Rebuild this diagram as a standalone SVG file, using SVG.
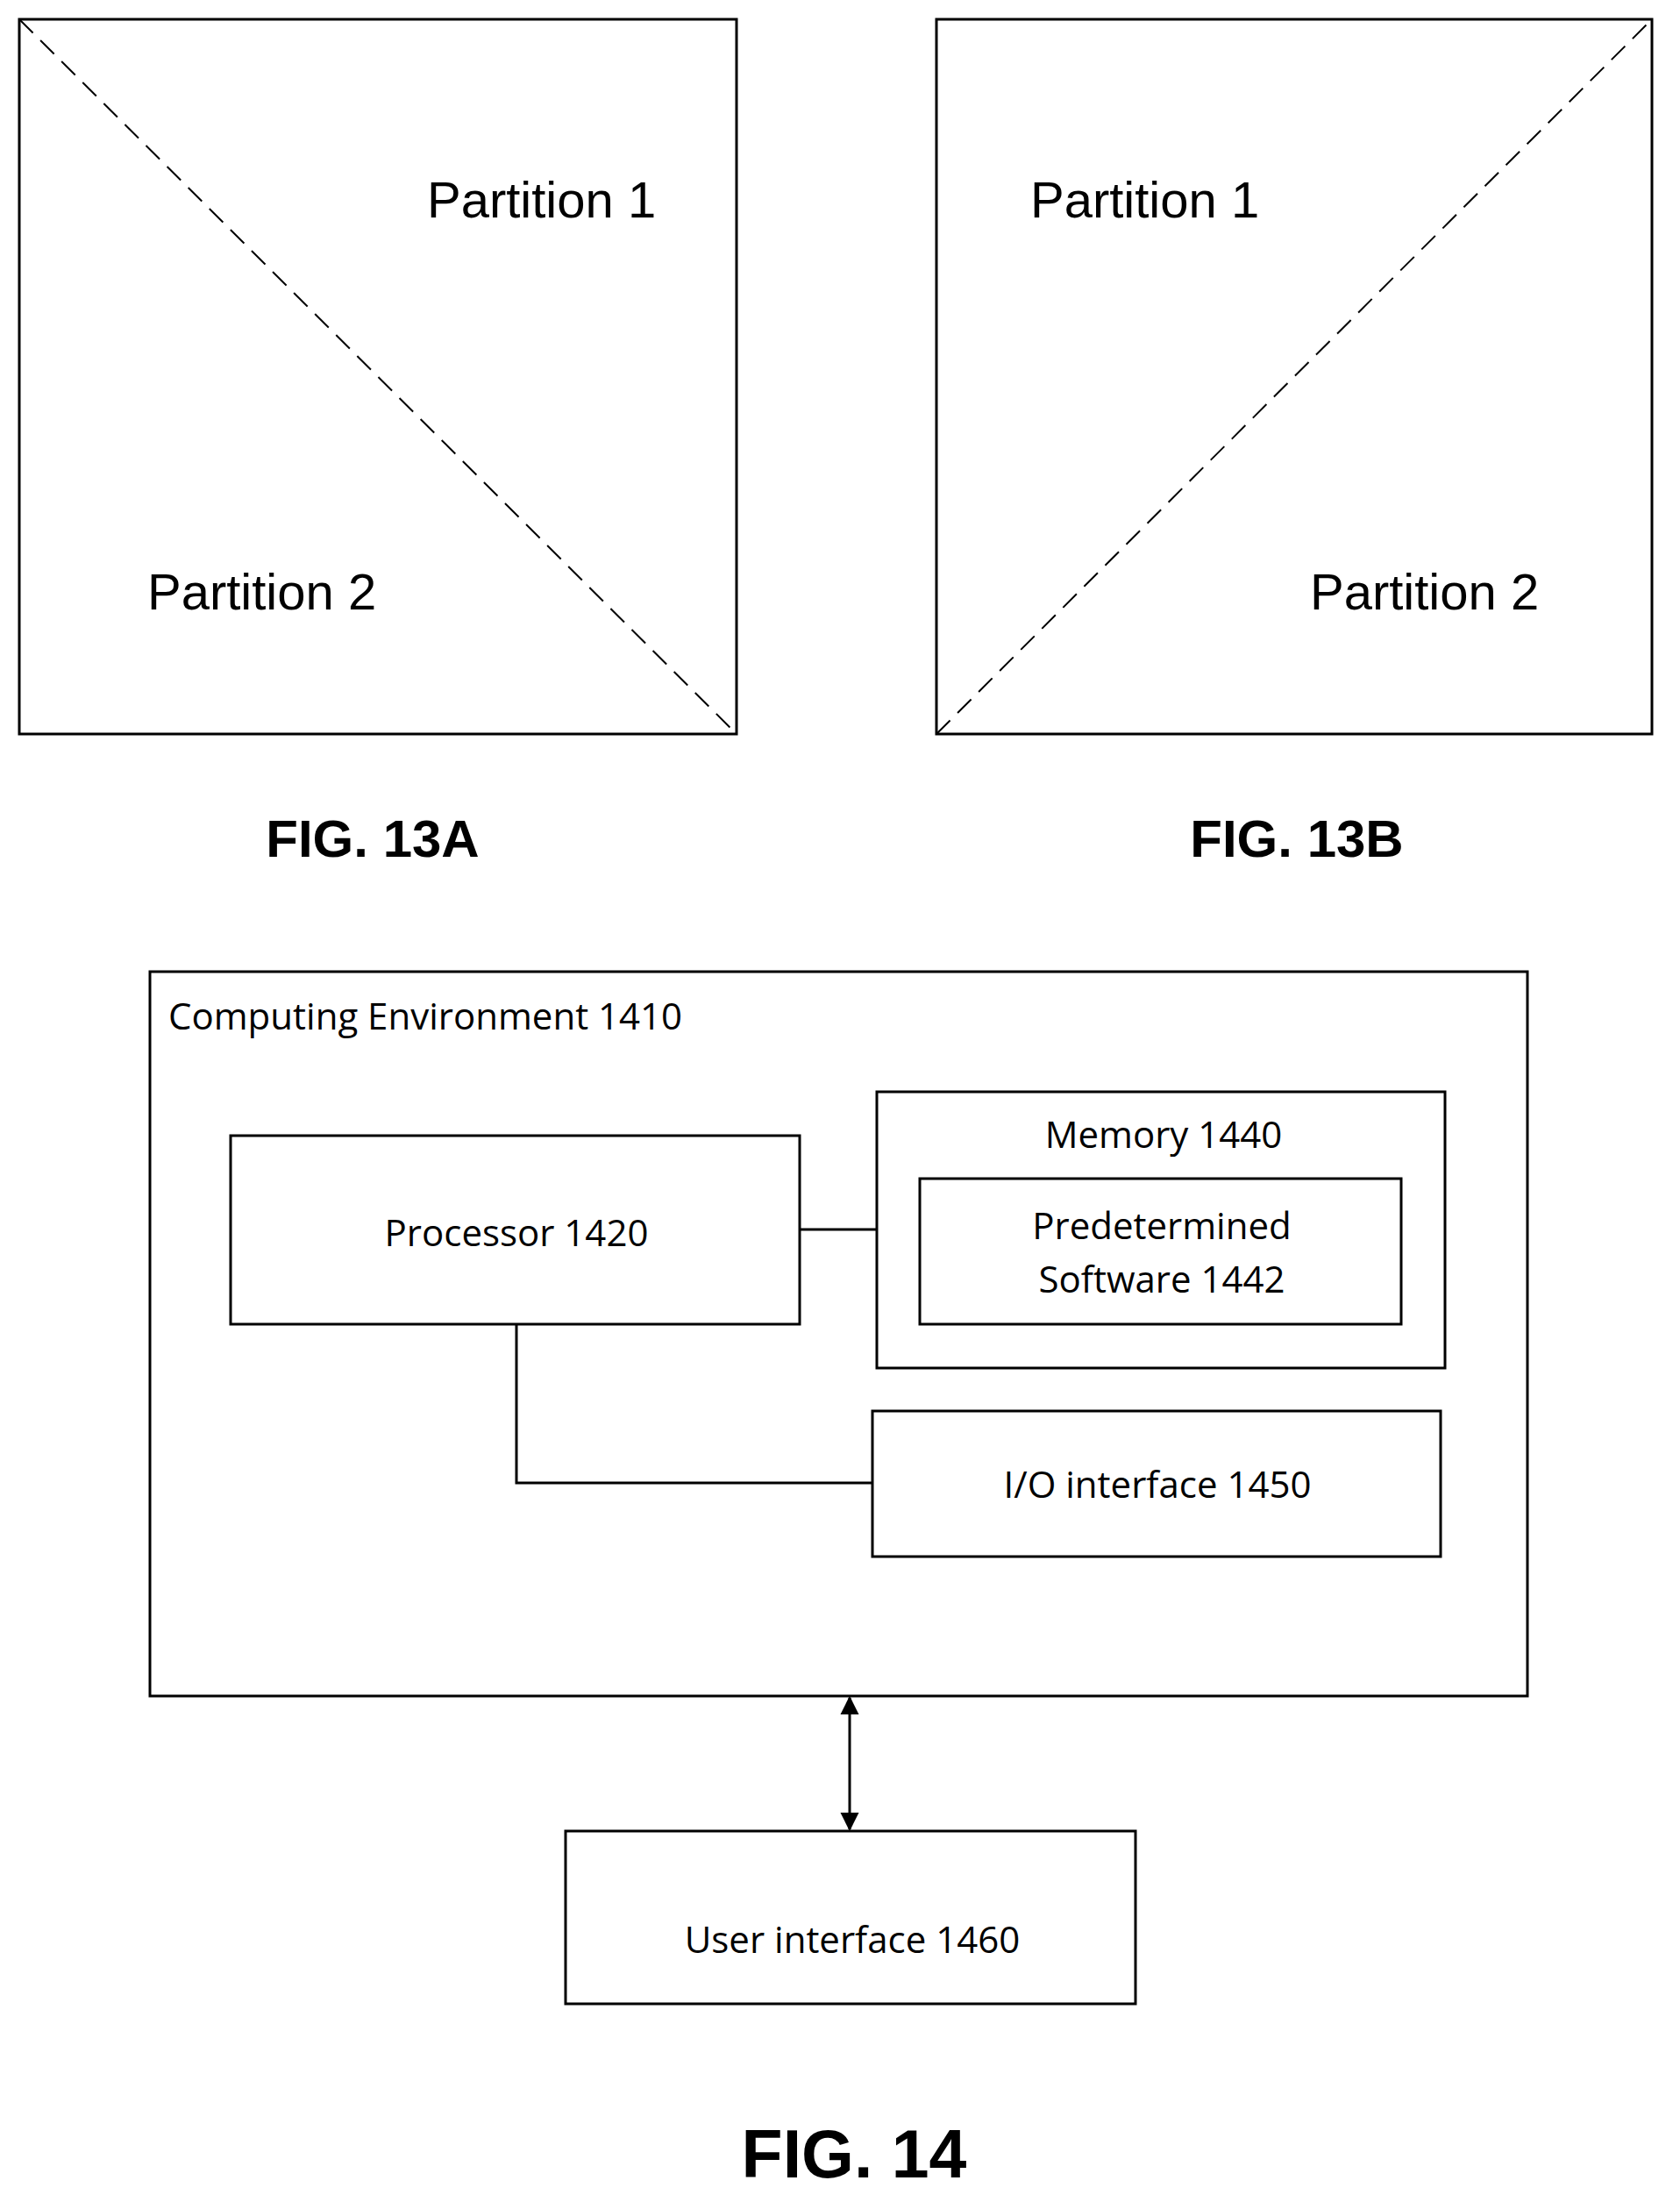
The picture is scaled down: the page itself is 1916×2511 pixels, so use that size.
<svg xmlns="http://www.w3.org/2000/svg" width="1916" height="2511" viewBox="0 0 1916 2511">
<defs>
<style>
.b{fill:none;stroke:#000;stroke-width:3}
.d{fill:none;stroke:#000;stroke-width:2;stroke-dasharray:22 12}
.p{font-family:"Liberation Sans",Arial,sans-serif;font-size:58px}
.f{font-family:"Liberation Sans",Arial,sans-serif;font-weight:bold;font-size:60px;text-anchor:middle}
.c{font-family:"Open Sans","Liberation Sans",sans-serif;font-size:42px;text-anchor:middle}
</style>
<marker id="ah" viewBox="0 0 10 10" refX="10" refY="5" markerWidth="8" markerHeight="8" orient="auto-start-reverse" markerUnits="userSpaceOnUse"><path d="M0,0L10,5L0,10z"/></marker>
<marker id="a" viewBox="0 0 10 10" refX="9" refY="5" markerWidth="7" markerHeight="9" orient="auto-start-reverse"><path d="M0,0L10,5L0,10z"/></marker>
</defs>
<rect width="1916" height="2511" fill="#fff"/>
<g id="fig13a">
<rect class="b" x="22" y="22" width="818" height="815"/>
<line class="d" x1="22" y1="22" x2="840" y2="837"/>
<text class="p" x="487" y="248">Partition 1</text>
<text class="p" x="168" y="695">Partition 2</text>
<text class="f" x="425" y="977">FIG. 13A</text>
</g>
<g id="fig13b">
<rect class="b" x="1068" y="22" width="816" height="815"/>
<line class="d" x1="1068" y1="837" x2="1884" y2="22"/>
<text class="p" x="1175" y="248">Partition 1</text>
<text class="p" x="1494" y="695">Partition 2</text>
<text class="f" x="1479" y="977">FIG. 13B</text>
</g>
<g id="env">
<rect class="b" x="171" y="1108" width="1571" height="826"/>
<text class="c" x="192" y="1174" style="text-anchor:start">Computing Environment 1410</text>
</g>
<g id="processor">
<rect class="b" x="263" y="1295" width="649" height="215"/>
<text class="c" x="589" y="1421">Processor 1420</text>
</g>
<g id="memory">
<rect class="b" x="1000" y="1245" width="648" height="315"/>
<text class="c" x="1327" y="1309">Memory 1440</text>
</g>
<g id="software">
<rect class="b" x="1049" y="1344" width="549" height="166"/>
<text class="c" x="1325" y="1413">Predetermined</text>
<text class="c" x="1325" y="1474">Software 1442</text>
</g>
<g id="io">
<rect class="b" x="995" y="1609" width="648" height="166"/>
<text class="c" x="1320" y="1708">I/O interface 1450</text>
</g>
<g id="ui">
<rect class="b" x="645" y="2088" width="650" height="197"/>
<text class="c" x="972" y="2227">User interface 1460</text>
</g>
<g id="connectors">
<line class="b" x1="912" y1="1402" x2="1000" y2="1402"/>
<polyline class="b" points="589,1510 589,1691 995,1691"/>
<line class="b" x1="969" y1="1936" x2="969" y2="2086" marker-start="url(#a)" marker-end="url(#a)"/>
</g>
<text class="f" x="974" y="2483" style="font-size:77px">FIG. 14</text>
</svg>
